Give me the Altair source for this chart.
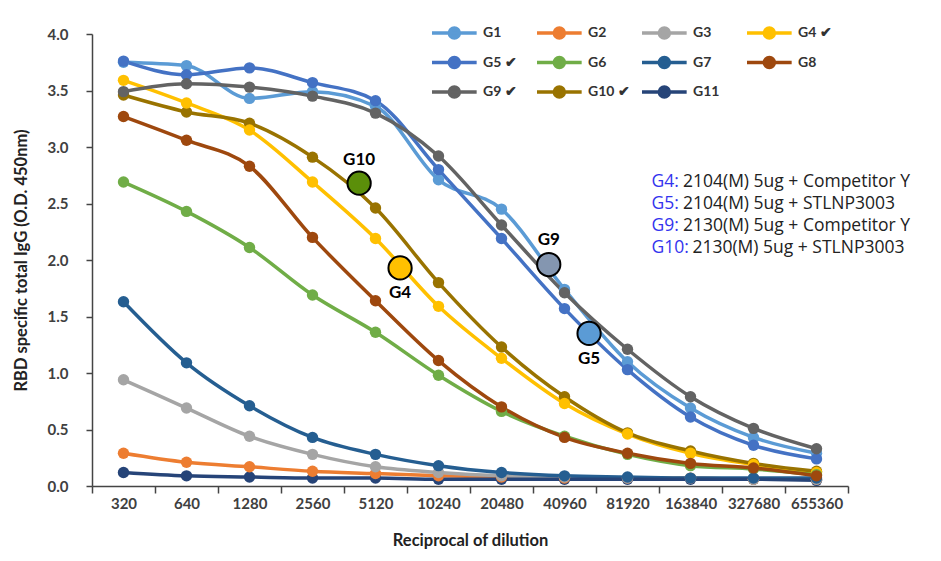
import altair as alt
import pandas as pd

cats = ["320", "640", "1280", "2560", "5120", "10240", "20480", "40960",
        "81920", "163840", "327680", "655360"]

groups = ["G1", "G2", "G3", "G4", "G5", "G6", "G7", "G8", "G9", "G10", "G11"]
colors = ["#5B9BD5", "#ED7D31", "#A5A5A5", "#FFC000", "#4472C4", "#70AD47",
          "#255E91", "#9E480E", "#636363", "#997300", "#264478"]

G1 = [3.75, 3.72, 3.43, 3.49, 3.36, 2.71, 2.45, 1.74, 1.10, 0.69, 0.43, 0.29]
G2 = [0.29, 0.21, 0.17, 0.13, 0.11, 0.09, 0.08, 0.07, 0.07, 0.07, 0.06, 0.06]
G3 = [0.94, 0.69, 0.44, 0.28, 0.17, 0.12, 0.09, 0.08, 0.07, 0.07, 0.06, 0.06]
G4 = [3.59, 3.39, 3.15, 2.69, 2.19, 1.59, 1.13, 0.73, 0.46, 0.29, 0.19, 0.12]
G5 = [3.76, 3.64, 3.70, 3.57, 3.41, 2.80, 2.19, 1.57, 1.03, 0.61, 0.36, 0.24]
G6 = [2.69, 2.43, 2.11, 1.69, 1.36, 0.98, 0.66, 0.44, 0.28, 0.18, 0.15, 0.10]
G7 = [1.63, 1.09, 0.71, 0.43, 0.28, 0.18, 0.12, 0.09, 0.08, 0.07, 0.07, 0.07]
G8 = [3.27, 3.06, 2.83, 2.20, 1.64, 1.11, 0.70, 0.43, 0.29, 0.20, 0.16, 0.09]
G9 = [3.49, 3.56, 3.53, 3.45, 3.30, 2.92, 2.31, 1.71, 1.21, 0.79, 0.51, 0.33]
G10 = [3.46, 3.31, 3.21, 2.91, 2.46, 1.80, 1.23, 0.79, 0.47, 0.31, 0.20, 0.13]
G11 = [0.12, 0.09, 0.08, 0.07, 0.07, 0.06, 0.06, 0.06, 0.06, 0.06, 0.06, 0.05]

series = [G1, G2, G3, G4, G5, G6, G7, G8, G9, G10, G11]

# callouts (x in category-index units, y in O.D.)
call_names = ["G10", "G4", "G9", "G5"]
call_x = [3.74, 4.39, 6.75, 7.39]
call_y = [2.68, 1.93, 1.96, 1.35]
call_fill = ["#5B8F0A", "#FFC000", "#8496B0", "#5B9BD5"]
call_label_y = [2.885, 1.708, 2.177, 1.124]

# description block
desc_prefix = ["G4:", "G5:", "G9:", "G10:"]
desc_rest = ["2104(M) 5ug + Competitor Y", "2104(M) 5ug + STLNP3003",
             "2130(M) 5ug + Competitor Y", "2130(M) 5ug + STLNP3003"]
desc_x = 8.38
desc_rest_x = [8.88, 8.88, 8.88, 9.03]
desc_y = [2.690, 2.496, 2.301, 2.106]

FONT = "Lato"
DFONT = "Open Sans"

rows = []
for g, vals in zip(groups, series):
    for c, v in zip(cats, vals):
        rows.append({"dilution": c, "value": v, "group": g})
df = pd.DataFrame(rows)

x_enc = alt.X("dilution:N", sort=cats,
              scale=alt.Scale(paddingInner=0, paddingOuter=0),
              axis=alt.Axis(title="Reciprocal of dilution", labelAngle=0,
                            tickBand="extent", tickSize=7, labelPadding=3,
                            titlePadding=21))
y_enc = alt.Y("value:Q", scale=alt.Scale(domain=[0, 4], nice=False),
              axis=alt.Axis(title="RBD specific total IgG (O.D. 450nm)",
                            values=[0, 0.5, 1, 1.5, 2, 2.5, 3, 3.5, 4],
                            format=".1f", grid=False, tickSize=6,
                            labelPadding=18, titlePadding=18))

check_expr = ("indexof(['G4','G5','G9','G10'], datum.label) >= 0 ? "
              "datum.label + ' \u2714' : datum.label")

legend = alt.Legend(
    title=None, orient="none", direction="horizontal",
    legendX=338, legendY=-17, columns=4,
    gridAlign="all", columnPadding=5, rowPadding=1.5,
    symbolType="M-1,0L2.19,0M0.239,0A0.357,0.357,0,1,1,0.953,0A0.357,0.357,0,1,1,0.239,0Z",
    symbolSize=784, symbolStrokeWidth=3.5, labelFontSize=14,
    labelFontWeight="bold", labelColor="#333333", labelFont=FONT,
    labelExpr=check_expr, labelOffset=21)

color_enc = alt.Color("group:N", sort=groups,
                      scale=alt.Scale(domain=groups, range=colors),
                      legend=legend)

base = alt.Chart(df).encode(x=x_enc, y=y_enc, color=color_enc,
                            order=alt.Order("group:N"))
lines = base.mark_line(strokeWidth=3.5, interpolate="monotone")
points = base.mark_point(filled=True, size=130, opacity=1)

main = alt.layer(lines, points)

# annotation layer
call_df = pd.DataFrame({"name": call_names, "xi": call_x, "value": call_y,
                        "fill": call_fill, "ly": call_label_y})
desc_df = pd.DataFrame({"prefix": desc_prefix, "rest": desc_rest,
                        "value": desc_y, "xi": [desc_x] * 4,
                        "xr": desc_rest_x})

xscale = alt.Scale(domain=[-0.5, 11.5], nice=False, zero=False)
ax = alt.X("xi:Q", scale=xscale, axis=None)
axr = alt.X("xr:Q", scale=xscale, axis=None)

circles = alt.Chart(call_df).mark_point(
    filled=True, size=540, stroke="black", strokeWidth=2, opacity=1,
    strokeOpacity=1).encode(x=ax, y=alt.Y("value:Q"),
                            fill=alt.Fill("fill:N", scale=None))
call_labels = alt.Chart(call_df).mark_text(
    font=FONT, fontSize=17, fontWeight="bold", color="black").encode(
    x=ax, y=alt.Y("ly:Q"), text="name:N")
desc_blue = alt.Chart(desc_df).mark_text(
    font=DFONT, fontSize=17.5, align="left", baseline="middle",
    color="#3333EE").encode(x=ax, y=alt.Y("value:Q"), text="prefix:N")
desc_black = alt.Chart(desc_df).mark_text(
    font=DFONT, fontSize=17.5, align="left", baseline="middle",
    color="#222222").encode(x=axr, y=alt.Y("value:Q"), text="rest:N")

annot = alt.layer(circles, call_labels, desc_blue, desc_black)

chart = alt.layer(main, annot).resolve_scale(x="independent").properties(
    width=756, height=452,
    autosize=alt.AutoSizeParams(type="none"),
    padding={"left": 84, "top": 26, "right": 85, "bottom": 67},
).configure_view(stroke=None).configure_axis(
    labelFont=FONT, titleFont=FONT, labelFontSize=15, labelFontWeight="bold",
    labelColor="#404040", titleFontSize=16.5, titleFontWeight="bold",
    titleColor="#222222", domainColor="#444444", tickColor="#444444",
    domainWidth=1.5, tickWidth=1.5)

chart.save("out.html", embed_options={"renderer": "svg", "actions": False})
